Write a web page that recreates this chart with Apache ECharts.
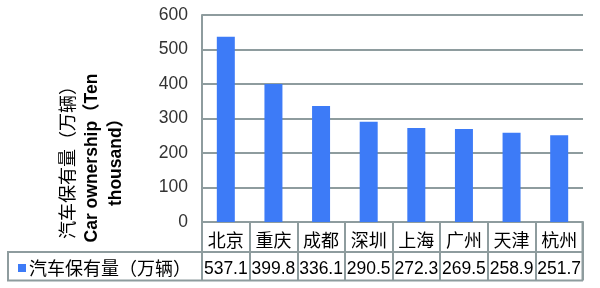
<!DOCTYPE html>
<html><head><meta charset="utf-8">
<script src="https://cdn.jsdelivr.net/npm/echarts@6/dist/echarts.min.js"></script>
<style>html,body{margin:0;padding:0;background:#fff}#c{width:600px;height:288px}</style>
</head><body><div id="c"></div>
<script>
var categories = ['北京','重庆','成都','深圳','上海','广州','天津','杭州'];
var values = [537.1, 399.8, 336.1, 290.5, 272.3, 269.5, 258.9, 251.7];
var seriesName = '汽车保有量（万辆）';
var yTicks = {min: 0, max: 600, interval: 100};

var FONT = '"Liberation Sans", Arial, "Noto Sans CJK SC", sans-serif';
var CJK = '"Noto Sans CJK SC", sans-serif';
var LINE = '#8e9c9e';
var chart = echarts.init(document.getElementById('c'), null, {renderer: 'canvas'});
chart.setOption({
  animation: false,
  textStyle: {fontFamily: FONT},
  grid: {left: 202, right: 17, top: 15, bottom: 66},
  legend: {
    data: [seriesName], left: 13, top: 254, icon: 'rect', itemWidth: 8, itemHeight: 8, itemGap: 0,
    textStyle: {fontFamily: CJK, fontSize: 18, color: '#000', padding: [0,0,0,-2]}
  },
  xAxis: {
    type: 'category', data: categories,
    axisLine: {show: true, lineStyle: {color: LINE, width: 2}},
    axisTick: {show: true, length: 58, interval: 0, lineStyle: {color: LINE, width: 2}},
    axisLabel: {
      interval: 0, margin: 4, align: 'center', color: '#000',
      formatter: function (v, i) { return '{c|' + v + '}\n{n|' + values[i].toFixed(1) + '}'; },
      rich: {
        c: {fontFamily: CJK, fontSize: 18, lineHeight: 29, color: '#000', align: 'center'},
        n: {fontFamily: FONT, fontSize: 17.5, lineHeight: 29, color: '#000', align: 'center'}
      }
    }
  },
  yAxis: {
    type: 'value', min: yTicks.min, max: yTicks.max, interval: yTicks.interval,
    axisLine: {show: true, lineStyle: {color: LINE, width: 2}},
    axisTick: {show: false},
    splitLine: {lineStyle: {color: LINE, width: 2}},
    axisLabel: {margin: 14, color: '#333', fontSize: 17.5, fontFamily: FONT}
  },
  series: [{
    name: seriesName, type: 'bar', data: values, barWidth: 18,
    itemStyle: {color: '#3d7bf7'}
  }],
  graphic: [
    {type: 'line', shape: {x1: 7, y1: 252, x2: 583, y2: 252}, style: {stroke: LINE, lineWidth: 2}},
    {type: 'line', shape: {x1: 7, y1: 280.5, x2: 583, y2: 280.5}, style: {stroke: LINE, lineWidth: 2}},
    {type: 'line', shape: {x1: 8, y1: 252, x2: 8, y2: 281}, style: {stroke: LINE, lineWidth: 2}},
    {type: 'line', shape: {x1: 202, y1: 222, x2: 202, y2: 281}, style: {stroke: LINE, lineWidth: 2}},
    {type: 'line', shape: {x1: 582.5, y1: 222, x2: 582.5, y2: 281}, style: {stroke: LINE, lineWidth: 2}},
    {
      type: 'text', x: 92, y: 158, rotation: Math.PI / 2,
      style: {
        text: '{a|汽车保有量（万辆）}\n{b|Car ownership（Ten}\n{b|thousand）}',
        align: 'center', verticalAlign: 'middle', fill: '#000',
        rich: {
          a: {fontSize: 18, lineHeight: 24.5, fontFamily: CJK, fill: '#000', align: 'center'},
          b: {fontSize: 17.5, lineHeight: 24.5, fontFamily: FONT, fontWeight: 'bold', fill: '#000', align: 'center'}
        }
      }
    }
  ]
});
</script></body></html>
